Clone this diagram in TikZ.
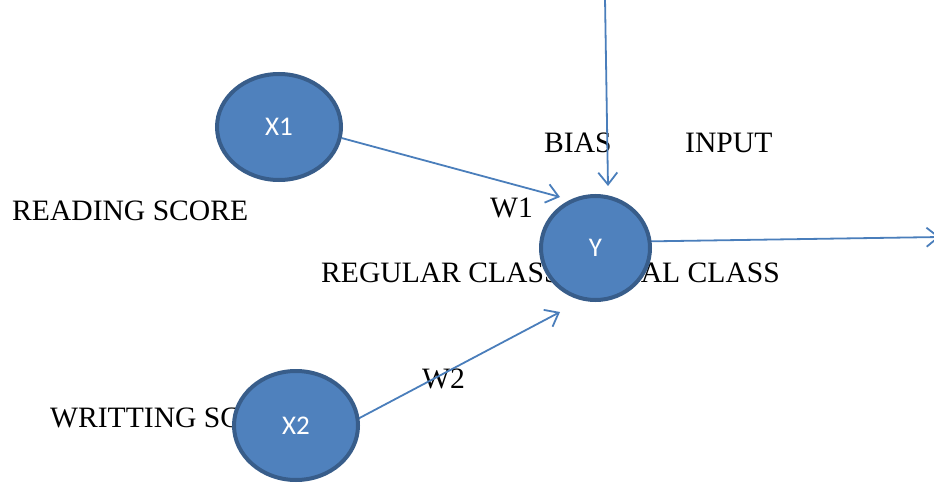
\documentclass[tikz,border=0pt]{standalone}
\usepackage{fontspec}
\setmainfont{Liberation Serif}
\newfontfamily\nodefont{Carlito}
\usetikzlibrary{arrows.meta,shapes.geometric}
\definecolor{nfill}{HTML}{4F81BD}
\definecolor{nedge}{HTML}{385D8A}
\definecolor{arrowc}{HTML}{4A7EBB}
\tikzset{
  neuron/.style={ellipse, draw=nedge, fill=nfill, line width=4pt, inner sep=0pt,
    font=\nodefont\fontsize{27}{30}\selectfont, text=white},
  lbl/.style={anchor=base west, inner sep=0pt, font=\fontsize{29.6}{33}\selectfont},
  conn/.style={draw=arrowc, line width=1.8pt, -{Straight Barb[length=12pt,width=19pt,line width=1.8pt]}}
}
\begin{document}
\begin{tikzpicture}[x=1pt,y=-1pt]
\useasboundingbox (0,0) rectangle (934,484);
% labels
\node[lbl] (rs) at (12,220) {READING SCORE};
\node[lbl] (w1) at (490,217) {W1};
\node[lbl] (bias) at (544,153) {BIAS};
\node[lbl] (inp) at (685,153) {INPUT};
\node[lbl] (reg) at (321,282) {REGULAR CLASS};
\node[lbl, anchor=base east] (spec) at (780,282) {SPECIAL CLASS};
\node[lbl] (ws) at (50,427) {WRITTING SCORE};
\node[lbl] (w2) at (422,388) {W2};
% free ends
\coordinate (biastop) at (605,-2);
\coordinate (yin0) at (608,186);
\coordinate (yin1) at (560,197);
\coordinate (yin2) at (560,312);
\coordinate (yout) at (940,237);
% node centres
\path (279,127) coordinate (cx1) (296,425.5) coordinate (cx2) (595.5,248) coordinate (cy);
\node[neuron, minimum width=124pt, minimum height=106pt] (X1) at (cx1) {X1};
\node[neuron, minimum width=124pt, minimum height=109pt, fill=white, draw=none, line width=0pt] (X2ghost) at (cx2) {};
\node[neuron, minimum width=109pt, minimum height=104pt, fill=white, draw=none, line width=0pt] (Yghost) at (cy) {};
% connectors
\draw[conn] (X1.-10) -- (yin1);
\draw[conn] (X2ghost.6) -- (yin2);
\draw[conn] (biastop) -- (yin0);
\draw[conn] (Yghost.7) -- (yout);
\node[neuron, minimum width=124pt, minimum height=109pt] (X2) at (cx2) {X2};
\node[neuron, minimum width=109pt, minimum height=104pt] (Y) at (cy) {Y};
\end{tikzpicture}
\end{document}
